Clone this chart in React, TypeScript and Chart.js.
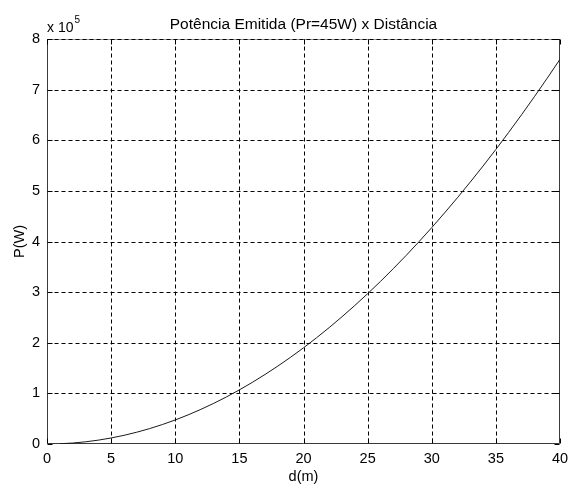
import { useEffect, useRef } from "react";
import { Chart, registerables } from "chart.js";

Chart.register(...registerables);

// Distance (m)
const distances = [
  1, 2, 3, 4, 5, 6, 7, 8, 9, 10,
  11, 12, 13, 14, 15, 16, 17, 18, 19, 20,
  21, 22, 23, 24, 25, 26, 27, 28, 29, 30,
  31, 32, 33, 34, 35, 36, 37, 38, 39, 40,
];
// Emitted power, in units of 10^5 W
const power = [
  0.005, 0.019, 0.043, 0.076, 0.119, 0.171, 0.233, 0.304, 0.385, 0.475,
  0.575, 0.684, 0.803, 0.931, 1.069, 1.216, 1.373, 1.539, 1.715, 1.9,
  2.095, 2.299, 2.513, 2.736, 2.969, 3.211, 3.463, 3.724, 3.995, 4.275,
  4.565, 4.864, 5.173, 5.491, 5.819, 6.156, 6.503, 6.859, 7.225, 7.6,
];
const xTicks = [0, 5, 10, 15, 20, 25, 30, 35, 40];
const yTicks = [0, 1, 2, 3, 4, 5, 6, 7, 8];
const titleText = "Potência Emitida (Pr=45W) x Distância";
const xLabel = "d(m)";
const yLabel = "P(W)";
const multiplierBase = "x 10";
const multiplierExp = "5";

const FONT = "'Liberation Sans', Arial, sans-serif";

const matlabPlugin = {
  id: "matlabDecor",
  beforeDatasetsDraw(chart: any) {
    const { ctx, chartArea } = chart;
    const xs = chart.scales.x;
    const ys = chart.scales.y;
    const L = Math.round(chartArea.left) + 0.5;
    const R = Math.round(chartArea.right) - 0.5;
    const T = Math.round(chartArea.top) + 0.5;
    const B = Math.round(chartArea.bottom) - 0.5;
    ctx.save();
    ctx.strokeStyle = "#9a9a9a";
    ctx.lineWidth = 1;
    ctx.beginPath();
    ctx.moveTo(L, T);
    ctx.lineTo(R, T);
    ctx.stroke();
    ctx.strokeStyle = "#000";
    ctx.setLineDash([4, 3]);
    ctx.beginPath();
    xTicks.forEach((t) => {
      const px = Math.round(xs.getPixelForValue(t)) + 0.5;
      if (px <= L + 1 || px >= R - 1) return;
      ctx.moveTo(px, T);
      ctx.lineTo(px, B);
    });
    yTicks.forEach((t) => {
      const py = Math.round(ys.getPixelForValue(t)) + 0.5;
      if (py >= B - 1) return;
      ctx.moveTo(L, py);
      ctx.lineTo(R, py);
    });
    ctx.stroke();
    ctx.setLineDash([]);
    ctx.strokeStyle = "#3a3a3a";
    ctx.beginPath();
    ctx.moveTo(L, T - 0.5);
    ctx.lineTo(L, B);
    ctx.lineTo(R, B);
    ctx.lineTo(R, T - 0.5);
    ctx.stroke();
    ctx.strokeStyle = "#000";
    ctx.beginPath();
    const tl = 5;
    xTicks.forEach((t) => {
      const px = Math.round(xs.getPixelForValue(t)) + 0.5;
      ctx.moveTo(px, B);
      ctx.lineTo(px, B - tl);
      ctx.moveTo(px, T);
      ctx.lineTo(px, T + tl);
    });
    yTicks.forEach((t) => {
      const py = Math.round(ys.getPixelForValue(t)) + 0.5;
      ctx.moveTo(L, py);
      ctx.lineTo(L + tl, py);
      ctx.moveTo(R, py);
      ctx.lineTo(R - tl, py);
    });
    ctx.stroke();
    ctx.restore();
  },
  afterDraw(chart: any) {
    const { ctx, chartArea } = chart;
    const cx = (chartArea.left + chartArea.right) / 2;
    const cy = (chartArea.top + chartArea.bottom) / 2;
    ctx.save();
    ctx.fillStyle = "#000";
    ctx.textBaseline = "alphabetic";
    ctx.textAlign = "center";
    ctx.font = `15.5px ${FONT}`;
    ctx.fillText(titleText, cx, 29);
    ctx.font = `14.5px ${FONT}`;
    ctx.fillText(xLabel, cx, 481);
    ctx.save();
    ctx.translate(24, cy);
    ctx.rotate(-Math.PI / 2);
    ctx.textAlign = "center";
    ctx.fillText(yLabel, 0, 0);
    ctx.restore();
    ctx.textAlign = "left";
    ctx.font = `14px ${FONT}`;
    ctx.fillText(multiplierBase, chartArea.left, 32);
    const w = ctx.measureText(multiplierBase).width;
    ctx.font = `10px ${FONT}`;
    ctx.fillText(multiplierExp, chartArea.left + w + 1, 23);
    ctx.restore();
  },
};

export default function App() {
  const ref = useRef<HTMLCanvasElement | null>(null);
  useEffect(() => {
    if (!ref.current) return;
    const chart = new Chart(ref.current, {
      type: "line",
      data: {
        datasets: [
          {
            data: distances.map((d, i) => ({ x: d, y: power[i] })),
            borderColor: "#1a1a1a",
            borderWidth: 1,
            pointRadius: 0,
            tension: 0,
            fill: false,
          },
        ],
      },
      options: {
        responsive: false,
        animation: false,
        layout: { padding: { left: 0, top: 39, right: 8, bottom: 0 } },
        plugins: {
          legend: { display: false },
          title: { display: false },
          tooltip: { enabled: false },
        },
        scales: {
          x: {
            type: "linear",
            min: 0,
            max: 40,
            afterBuildTicks: (s: any) => {
              s.ticks = xTicks.map((v) => ({ value: v }));
            },
            afterFit: (s: any) => {
              s.height = 43;
              s.paddingLeft = 0;
              s.paddingRight = 0;
            },
            grid: { display: false, drawTicks: false },
            border: { display: false },
            ticks: {
              padding: 6,
              maxRotation: 0,
              autoSkip: false,
              color: "#000",
              font: { family: FONT, size: 14.5 },
            },
          },
          y: {
            type: "linear",
            min: 0,
            max: 8,
            afterBuildTicks: (s: any) => {
              s.ticks = yTicks.map((v) => ({ value: v }));
            },
            afterFit: (s: any) => {
              s.width = 47;
              s.paddingTop = 0;
              s.paddingBottom = 0;
            },
            grid: { display: false, drawTicks: false },
            border: { display: false },
            ticks: {
              padding: 7,
              autoSkip: false,
              color: "#000",
              font: { family: FONT, size: 14.5 },
            },
          },
        },
      },
      plugins: [matlabPlugin],
    });
    return () => chart.destroy();
  }, []);
  return (
    <div style={{ position: "absolute", left: 0, top: 0, width: 568, height: 487, background: "#fff" }}>
      <canvas ref={ref} width={568} height={487} style={{ display: "block" }} />
    </div>
  );
}
